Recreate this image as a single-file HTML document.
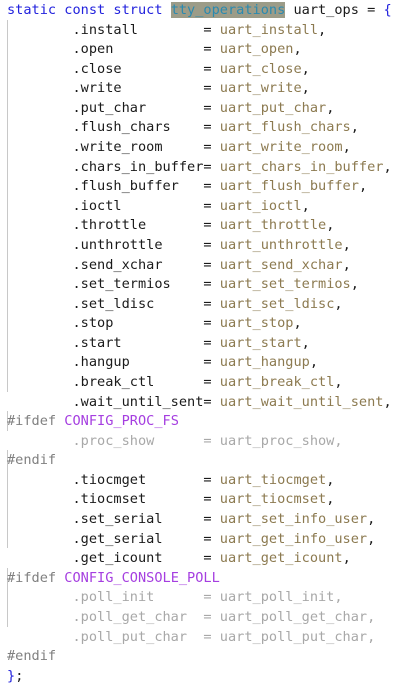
<!DOCTYPE html>
<html><head><meta charset="utf-8"><style>
html,body{margin:0;padding:0;background:#fff;width:403px;height:668px;overflow:hidden}
pre{margin:0;position:absolute;left:7px;top:1px;font-family:"DejaVu Sans Mono","Liberation Mono",monospace;font-size:13.6px;line-height:19.58px;color:#1a1a1a;white-space:pre}
.k{color:#2222dd}.hl{background:#9c9c88;color:#2a8ab0}.v{color:#8c7a50}.p{color:#808080}.m{color:#a53ee0}.g{color:#a8a8a8}
.bar{position:absolute;left:7px;width:1px;background:#c8c8c8}
</style></head><body>
<div class="bar" style="top:20px;height:372px"></div>
<div class="bar" style="top:411px;height:20px"></div>
<div class="bar" style="top:450px;height:98px"></div>
<div class="bar" style="top:568px;height:59px"></div>
<pre><span class="k">static const struct</span> <span class="hl">tty_operations</span> uart_ops = <span class="k">{</span>
        .install        = <span class="v">uart_install</span>,
        .open           = <span class="v">uart_open</span>,
        .close          = <span class="v">uart_close</span>,
        .write          = <span class="v">uart_write</span>,
        .put_char       = <span class="v">uart_put_char</span>,
        .flush_chars    = <span class="v">uart_flush_chars</span>,
        .write_room     = <span class="v">uart_write_room</span>,
        .chars_in_buffer= <span class="v">uart_chars_in_buffer</span>,
        .flush_buffer   = <span class="v">uart_flush_buffer</span>,
        .ioctl          = <span class="v">uart_ioctl</span>,
        .throttle       = <span class="v">uart_throttle</span>,
        .unthrottle     = <span class="v">uart_unthrottle</span>,
        .send_xchar     = <span class="v">uart_send_xchar</span>,
        .set_termios    = <span class="v">uart_set_termios</span>,
        .set_ldisc      = <span class="v">uart_set_ldisc</span>,
        .stop           = <span class="v">uart_stop</span>,
        .start          = <span class="v">uart_start</span>,
        .hangup         = <span class="v">uart_hangup</span>,
        .break_ctl      = <span class="v">uart_break_ctl</span>,
        .wait_until_sent= <span class="v">uart_wait_until_sent</span>,
<span class="p">#ifdef</span> <span class="m">CONFIG_PROC_FS</span>
<span class="g">        .proc_show      = uart_proc_show,</span>
<span class="p">#endif</span>
        .tiocmget       = <span class="v">uart_tiocmget</span>,
        .tiocmset       = <span class="v">uart_tiocmset</span>,
        .set_serial     = <span class="v">uart_set_info_user</span>,
        .get_serial     = <span class="v">uart_get_info_user</span>,
        .get_icount     = <span class="v">uart_get_icount</span>,
<span class="p">#ifdef</span> <span class="m">CONFIG_CONSOLE_POLL</span>
<span class="g">        .poll_init      = uart_poll_init,</span>
<span class="g">        .poll_get_char  = uart_poll_get_char,</span>
<span class="g">        .poll_put_char  = uart_poll_put_char,</span>
<span class="p">#endif</span>
<span class="k">}</span>;</pre>
</body></html>
